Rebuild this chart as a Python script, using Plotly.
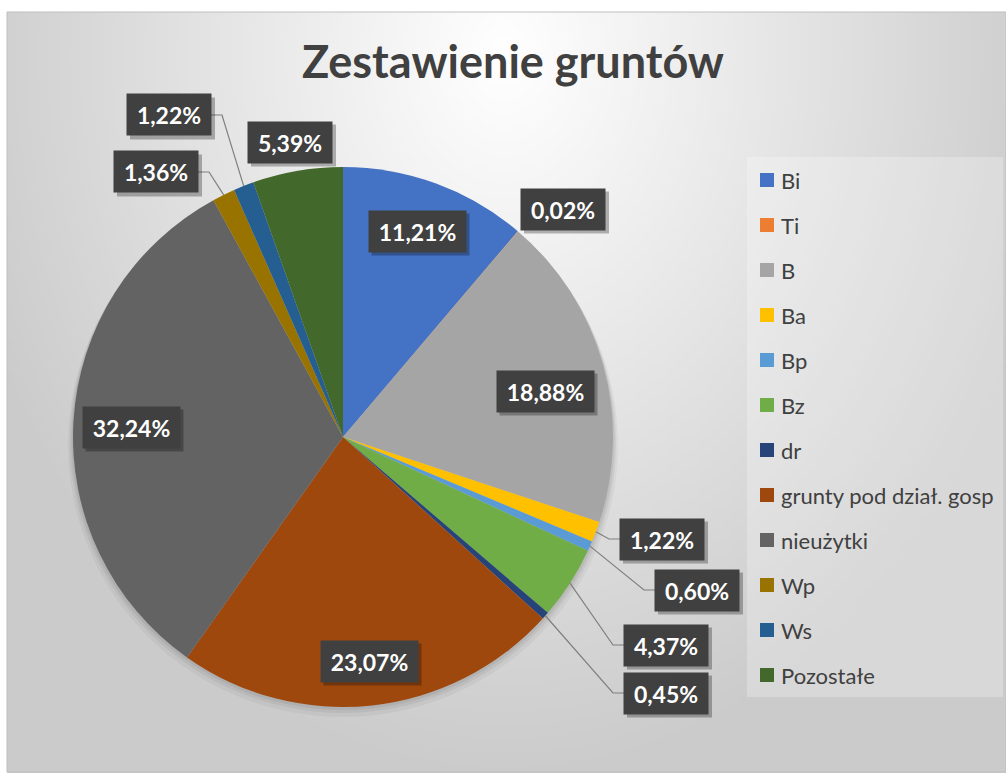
import math, zlib, struct, base64
import plotly.graph_objects as go

# ---------------- data ----------------
CATEGORIES = ["Bi", "Ti", "B", "Ba", "Bp", "Bz", "dr", "grunty pod dział. gosp",
              "nieużytki", "Wp", "Ws", "Pozostałe"]
SHARES = [11.21, 0.02, 18.88, 1.22, 0.60, 4.37, 0.45, 23.07, 32.24, 1.36, 1.22, 5.39]
COLORS = ["#4472C4", "#ED7D31", "#A5A5A5", "#FFC000", "#5B9BD5", "#70AD47", "#264478",
          "#9E480E", "#636363", "#997300", "#255E91", "#43682B"]
TITLE = "Zestawienie gruntów"

# ---------------- layout helpers (pixels -> paper) ----------------
W, H = 1006, 773
def fx(x): return x / W
def fy(y): return 1 - y / H

CX, CY, R = 343, 437, 270  # pie centre / radius in pixels

# label box centres (pixels) - layout only
LABEL_POS = [(417, 231), (563, 209), (545, 391), (662, 539), (697, 590), (666, 645),
             (666, 693), (369, 661), (131, 427), (156, 172), (169, 115), (290, 142)]
LEADERS = {"Ba", "Bp", "Bz", "dr", "Wp", "Ws"}

# ---------------- background gradient as PNG ----------------
def make_png(w, h, rows):
    raw = b"".join(b"\x00" + bytes(r) for r in rows)
    def chunk(t, d):
        return struct.pack(">I", len(d)) + t + d + struct.pack(">I", zlib.crc32(t + d) & 0xffffffff)
    ihdr = struct.pack(">IIBBBBB", w, h, 8, 0, 0, 0, 0)
    return (b"\x89PNG\r\n\x1a\n" + chunk(b"IHDR", ihdr) +
            chunk(b"IDAT", zlib.compress(raw)) + chunk(b"IEND", b""))

GW, GH = 250, 190
BX0, BY0, BX1, BY1 = 7, 12, 1006, 773
rows = []
for j in range(GH):
    py = BY0 + (BY1 - BY0) * (j + 0.5) / GH
    row = []
    for i in range(GW):
        px = BX0 + (BX1 - BX0) * (i + 0.5) / GW
        d = math.hypot((px - 505) / 560, (py - 55) / 720)
        row.append(int(round(255 - 52 * min(d, 1.0))))
    rows.append(row)
png_src = "data:image/png;base64," + base64.b64encode(make_png(GW, GH, rows)).decode()

# ---------------- figure ----------------
fig = go.Figure()
fig.add_trace(go.Pie(
    labels=CATEGORIES, values=SHARES, sort=False, direction="clockwise", rotation=0,
    marker=dict(colors=COLORS, line=dict(width=0)), textinfo="none", showlegend=False,
    domain=dict(x=[fx(CX - R), fx(CX + R)], y=[fy(CY + R), fy(CY - R)]),
    hoverinfo="label+percent",
))

shapes = []
annotations = []

# chart border
shapes.append(dict(type="rect", xref="paper", yref="paper", x0=fx(BX0), y0=fy(BY0),
                   x1=fx(BX1), y1=fy(BY1 - 1), line=dict(color="#BFBFBF", width=1),
                   fillcolor="rgba(0,0,0,0)", layer="below"))
# soft pie shadow
for k, a in [(10, 0.04), (6, 0.05), (3, 0.06)]:
    shapes.append(dict(type="circle", xref="paper", yref="paper",
                       x0=fx(CX - R - k / 2), x1=fx(CX + R + k / 2),
                       y0=fy(CY + R + k), y1=fy(CY - R + k / 2),
                       line=dict(width=0), fillcolor=f"rgba(0,0,0,{a})", layer="below"))

# data labels with leader lines
total = sum(SHARES)
cum = 0.0
for name, v, (lx, ly) in zip(CATEGORIES, SHARES, LABEL_POS):
    mid = (cum + v / 2) / total * 2 * math.pi
    cum += v
    ax, ay = CX + R * math.sin(mid), CY - R * math.cos(mid)
    txt = f"{v:.2f}".replace(".", ",") + "%"
    bw = 13 * len(txt) + 19
    bh = 41
    if name in LEADERS:
        if lx > ax:
            edge = lx - bw / 2
            ex = edge - 11
        else:
            edge = lx + bw / 2
            ex = edge + 11
        path = f"M{fx(ax)},{fy(ay)} L{fx(ex)},{fy(ly)} L{fx(edge)},{fy(ly)}"
        shapes.append(dict(type="path", xref="paper", yref="paper", path=path,
                           line=dict(color="#7F7F7F", width=1.2), layer="above"))
    # box shadow
    shapes.append(dict(type="rect", xref="paper", yref="paper",
                       x0=fx(lx - bw / 2 + 3), x1=fx(lx + bw / 2 + 4),
                       y0=fy(ly + bh / 2 + 4), y1=fy(ly - bh / 2 + 3),
                       line=dict(width=0), fillcolor="rgba(0,0,0,0.28)", layer="above"))
    annotations.append(dict(xref="paper", yref="paper", x=fx(lx), y=fy(ly),
                            xanchor="center", yanchor="middle", showarrow=False,
                            text=f"<b>{txt}</b>", width=bw, height=bh,
                            bgcolor="#404040", borderpad=0,
                            font=dict(family="Lato, sans-serif", size=23, color="#FFFFFF")))

# legend (box + entries)
LEG_X0, LEG_Y0, LEG_X1, LEG_Y1 = 747, 157, 1003, 697
shapes.append(dict(type="rect", xref="paper", yref="paper", x0=fx(LEG_X0), x1=fx(LEG_X1),
                   y0=fy(LEG_Y1), y1=fy(LEG_Y0), line=dict(width=0),
                   fillcolor="rgba(255,255,255,0.25)", layer="below"))
for i, (name, col) in enumerate(zip(CATEGORIES, COLORS)):
    yc = 180 + 45 * i
    shapes.append(dict(type="rect", xref="paper", yref="paper", x0=fx(760), x1=fx(774),
                       y0=fy(yc + 7), y1=fy(yc - 7), line=dict(width=0), fillcolor=col))
    annotations.append(dict(xref="paper", yref="paper", x=fx(779), y=fy(yc),
                            xanchor="left", yanchor="middle", showarrow=False, text=name,
                            font=dict(family="Lato, sans-serif", size=22, color="#404040")))

fig.update_layout(
    width=W, height=H, margin=dict(l=0, r=0, t=0, b=0),
    paper_bgcolor="#FFFFFF",
    title=dict(text=f"<b>{TITLE}</b>", x=fx(513), y=fy(62), xanchor="center", yanchor="middle",
               font=dict(family="Lato, sans-serif", size=45, color="#404040")),
    images=[dict(source=png_src, xref="paper", yref="paper", x=fx(BX0), y=fy(BY0),
                 sizex=(BX1 - BX0) / W, sizey=(BY1 - BY0) / H, sizing="stretch",
                 xanchor="left", yanchor="top", layer="below")],
    shapes=shapes, annotations=annotations,
)

fig.write_html("out.html", config={"displayModeBar": False},
               post_script="document.body.style.margin='0';document.body.style.overflow='hidden';")
